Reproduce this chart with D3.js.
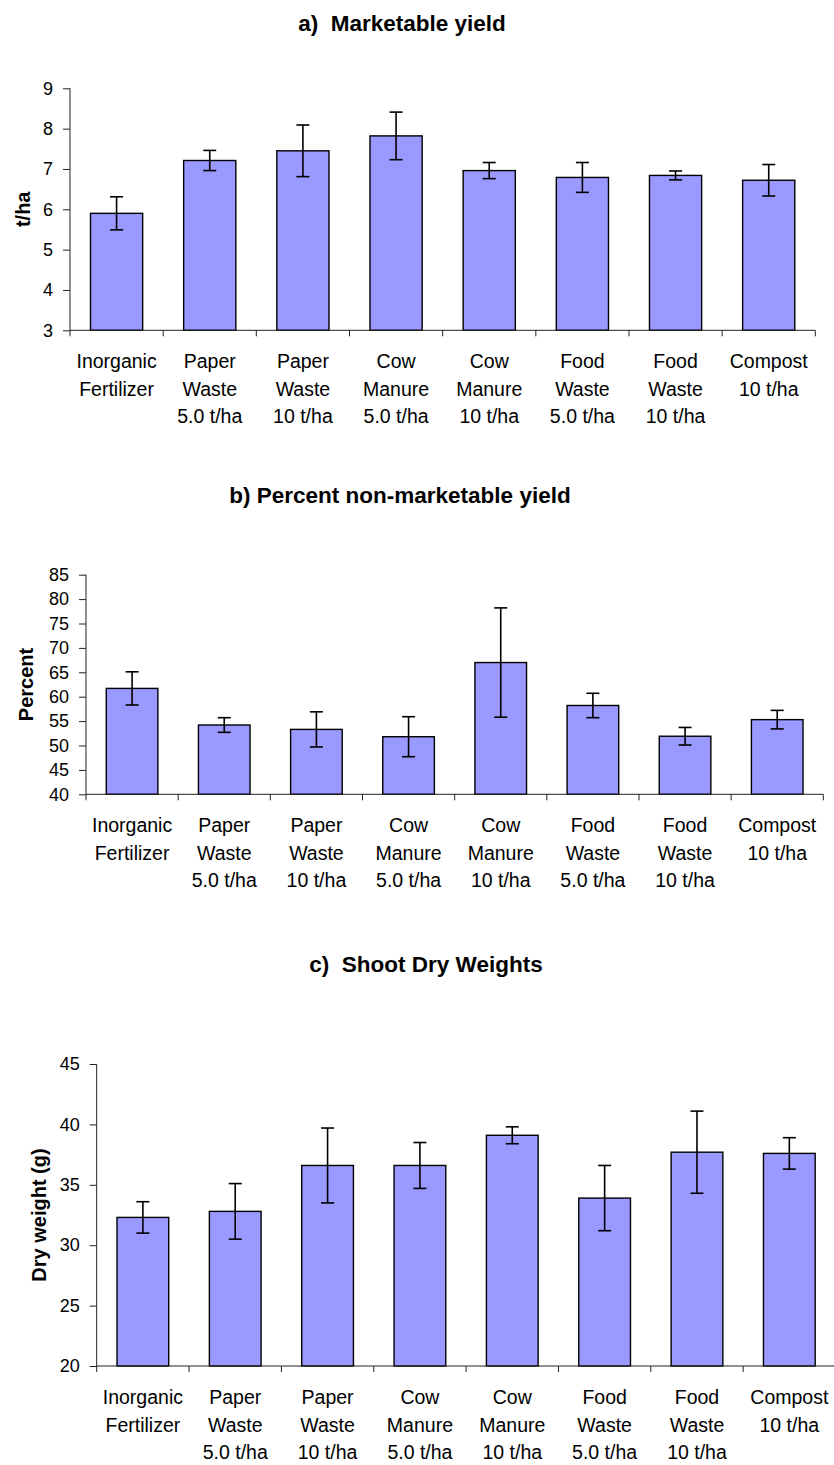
<!DOCTYPE html>
<html>
<head>
<meta charset="utf-8">
<script src="https://cdn.jsdelivr.net/npm/d3@7/dist/d3.min.js"></script>
<style>
  html, body { margin: 0; padding: 0; background: #fff; }
  svg { display: block; font-family: "Liberation Sans", Arial, sans-serif; }
  .title { white-space: pre; }
</style>
</head>
<body>
<svg id="chart" width="834" height="1465"></svg>
<script>
// Treatments (multi-line category labels)
const categories = [
  ["Inorganic", "Fertilizer"],
  ["Paper", "Waste", "5.0 t/ha"],
  ["Paper", "Waste", "10 t/ha"],
  ["Cow", "Manure", "5.0 t/ha"],
  ["Cow", "Manure", "10 t/ha"],
  ["Food", "Waste", "5.0 t/ha"],
  ["Food", "Waste", "10 t/ha"],
  ["Compost", "10 t/ha"]
];

// a) Marketable yield (t/ha), mean and error
const yieldMean = [5.90, 7.21, 7.45, 7.82, 6.96, 6.79, 6.84, 6.72];
const yieldErr  = [0.41, 0.25, 0.64, 0.59, 0.20, 0.37, 0.11, 0.39];
const yieldTicks = [3, 4, 5, 6, 7, 8, 9];

// b) Percent non-marketable yield, mean and error
const nonMarketMean = [61.7, 54.2, 53.3, 51.8, 67.0, 58.2, 51.9, 55.3];
const nonMarketErr  = [3.4, 1.5, 3.6, 4.1, 11.2, 2.5, 1.8, 1.9];
const nonMarketTicks = [40, 45, 50, 55, 60, 65, 70, 75, 80, 85];

// c) Shoot dry weights (g), mean and error
const dryWeightMean = [32.3, 32.8, 36.6, 36.6, 39.1, 33.9, 37.7, 37.6];
const dryWeightErr  = [1.3, 2.3, 3.1, 1.9, 0.7, 2.7, 3.4, 1.3];
const dryWeightTicks = [20, 25, 30, 35, 40, 45];

const panels = [
  { title: "a)  Marketable yield", titleX: 402, titleY: 31,
    yLabel: "t/ha", yLabelX: 30,
    mean: yieldMean, err: yieldErr, ticks: yieldTicks,
    left: 70, right: 815.3, top: 88.3, bottom: 330.3 },
  { title: "b) Percent non-marketable yield", titleX: 400, titleY: 503,
    yLabel: "Percent", yLabelX: 33,
    mean: nonMarketMean, err: nonMarketErr, ticks: nonMarketTicks,
    left: 86, right: 823.3, top: 574.7, bottom: 794.3 },
  { title: "c)  Shoot Dry Weights", titleX: 426, titleY: 972,
    yLabel: "Dry weight (g)", yLabelX: 46,
    mean: dryWeightMean, err: dryWeightErr, ticks: dryWeightTicks,
    left: 96.7, right: 835.5, top: 1064, bottom: 1366 }
];

const svg = d3.select("#chart");

panels.forEach(p => {
  const g = svg.append("g");
  const idx = d3.range(categories.length);

  const x = d3.scaleBand()
    .domain(idx)
    .range([p.left, p.right])
    .paddingInner(0.44)
    .paddingOuter(0.22);

  const y = d3.scaleLinear()
    .domain(d3.extent(p.ticks))
    .range([p.bottom, p.top]);

  // Title
  g.append("text")
    .attr("class", "title")
    .attr("x", p.titleX)
    .attr("y", p.titleY)
    .attr("text-anchor", "middle")
    .attr("font-size", 22.5)
    .attr("font-weight", "bold")
    .attr("fill", "#000")
    .text(p.title);

  // Y axis title
  g.append("text")
    .attr("transform", `translate(${p.yLabelX},${(p.top + p.bottom) / 2}) rotate(-90)`)
    .attr("text-anchor", "middle")
    .attr("font-size", 20)
    .attr("font-weight", "bold")
    .attr("fill", "#000")
    .text(p.yLabel);

  // Bars
  g.selectAll("rect.bar")
    .data(p.mean)
    .join("rect")
    .attr("class", "bar")
    .attr("x", (d, i) => x(i))
    .attr("width", x.bandwidth())
    .attr("y", d => y(d))
    .attr("height", d => y(p.ticks[0]) - y(d))
    .attr("fill", "#9999FF")
    .attr("stroke", "#000")
    .attr("stroke-width", 1.4);

  // Error bars
  const cap = 6.5;
  const eb = g.selectAll("g.err")
    .data(p.mean.map((m, i) => ({ m, e: p.err[i], i })))
    .join("g")
    .attr("class", "err")
    .attr("stroke", "#000")
    .attr("stroke-width", 1.6);
  eb.append("line")
    .attr("x1", d => x(d.i) + x.bandwidth() / 2)
    .attr("x2", d => x(d.i) + x.bandwidth() / 2)
    .attr("y1", d => y(d.m + d.e))
    .attr("y2", d => y(d.m - d.e));
  eb.append("line")
    .attr("x1", d => x(d.i) + x.bandwidth() / 2 - cap)
    .attr("x2", d => x(d.i) + x.bandwidth() / 2 + cap)
    .attr("y1", d => y(d.m + d.e))
    .attr("y2", d => y(d.m + d.e));
  eb.append("line")
    .attr("x1", d => x(d.i) + x.bandwidth() / 2 - cap)
    .attr("x2", d => x(d.i) + x.bandwidth() / 2 + cap)
    .attr("y1", d => y(d.m - d.e))
    .attr("y2", d => y(d.m - d.e));

  // Y axis
  const yAxis = g.append("g")
    .attr("transform", `translate(${p.left},0)`)
    .call(d3.axisLeft(y).tickValues(p.ticks).tickSize(7).tickPadding(10).tickFormat(d3.format("d")));
  yAxis.select(".domain").attr("stroke", "#222").attr("d", `M0,${p.bottom}V${p.top}`);
  yAxis.selectAll(".tick line").attr("stroke", "#222");
  yAxis.selectAll(".tick text")
    .attr("font-size", 18)
    .attr("font-family", "Liberation Sans, Arial, sans-serif")
    .attr("fill", "#000");

  // X axis with ticks on category boundaries
  const step = x.step();
  const bounds = d3.range(categories.length + 1).map(i => p.left + i * step);
  g.append("line")
    .attr("x1", p.left).attr("x2", p.right)
    .attr("y1", p.bottom).attr("y2", p.bottom)
    .attr("stroke", "#222").attr("stroke-width", 1);
  g.selectAll("line.xtick")
    .data(bounds)
    .join("line")
    .attr("class", "xtick")
    .attr("x1", d => d).attr("x2", d => d)
    .attr("y1", p.bottom).attr("y2", p.bottom + 6)
    .attr("stroke", "#222");

  // Category labels
  const labels = g.selectAll("text.cat")
    .data(categories)
    .join("text")
    .attr("class", "cat")
    .attr("text-anchor", "middle")
    .attr("font-size", 19.5)
    .attr("fill", "#000")
    .attr("transform", (d, i) => `translate(${x(i) + x.bandwidth() / 2},${p.bottom + 38})`);
  labels.selectAll("tspan")
    .data(d => d)
    .join("tspan")
    .attr("x", 0)
    .attr("y", (d, j) => j * 27.5)
    .text(d => d);
});
</script>
</body>
</html>
